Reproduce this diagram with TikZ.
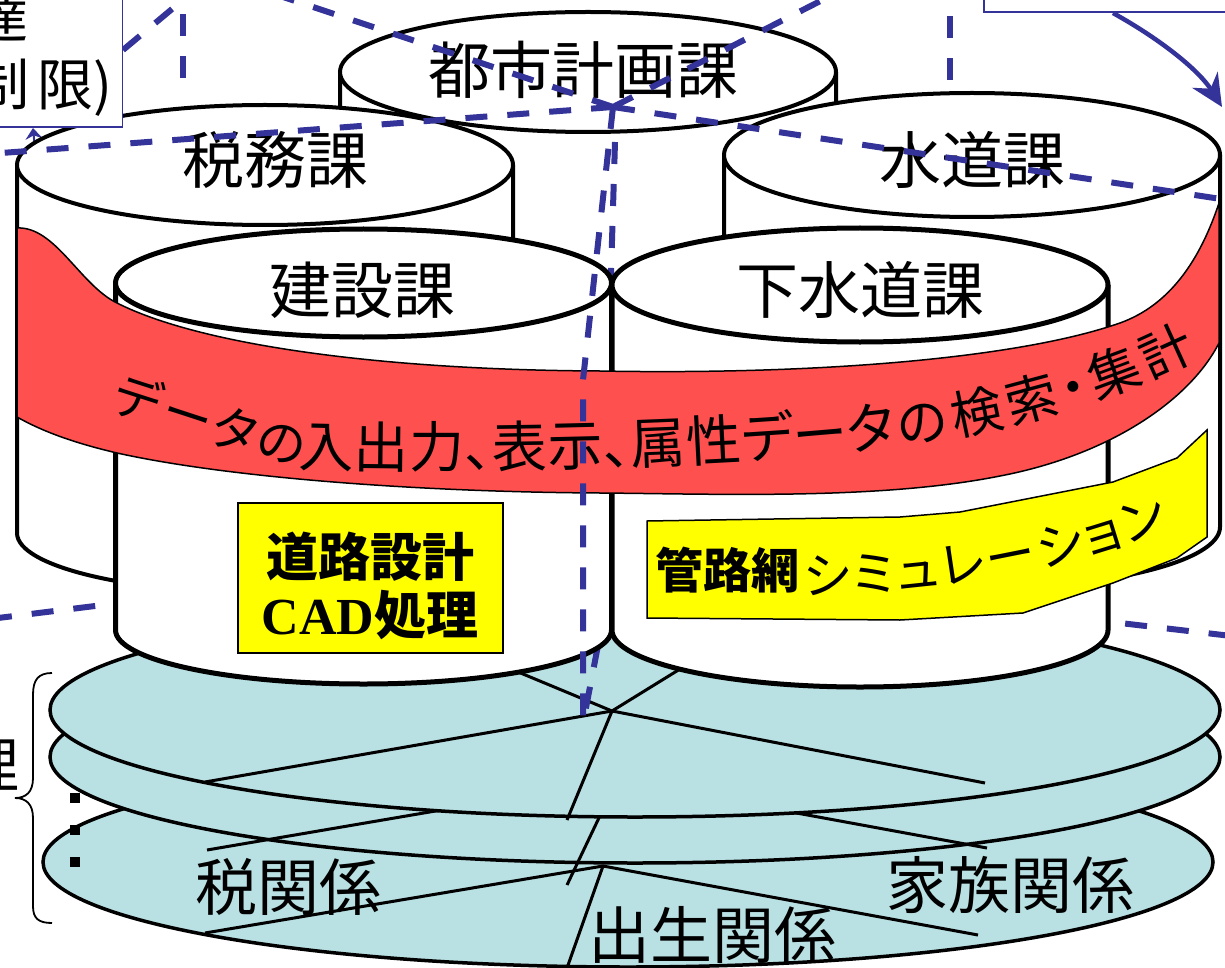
\documentclass[tikz,border=0pt]{standalone}
\usepackage{fontspec}
\newfontfamily\jp{Noto Sans CJK JP}
\newfontfamily\jpprop{Noto Sans CJK JP}[RawFeature=+palt]
\newfontfamily\latinserif{Liberation Serif}
\usetikzlibrary{arrows.meta,decorations.text}
\definecolor{linkblue}{RGB}{51,51,153}
\definecolor{bandred}{RGB}{255,80,80}
\definecolor{diskblue}{RGB}{185,224,227}
\definecolor{markyellow}{RGB}{255,255,0}
\newcommand{\fs}[1]{\fontsize{#1}{#1}\selectfont}
% upright cylinder: centre x, top y, bottom y, x radius, y radius, style
\newcommand{\cylinderbody}[6]{%
  \pgfmathsetmacro\cylL{#1-#4}%
  \pgfmathsetmacro\cylR{#1+#4}%
  \pgfmathsetmacro\cylB{#3+#5}%
  \pgfmathsetmacro\cylKx{0.5523*#4}%
  \pgfmathsetmacro\cylKy{0.5523*#5}%
  \path[#6] (\cylL,#2) -- (\cylL,#3)
    .. controls (\cylL,#3+\cylKy) and (#1-\cylKx,\cylB) .. (#1,\cylB)
    .. controls (#1+\cylKx,\cylB) and (\cylR,#3+\cylKy) .. (\cylR,#3)
    -- (\cylR,#2);
  \path[#6] (#1,#2) ellipse [x radius=#4pt, y radius=#5pt];
}
\begin{document}
\begin{tikzpicture}[x=1pt,y=-1pt,
  link/.style={draw=linkblue,line width=6pt,dash pattern=on 22pt off 20pt},
  backcyl/.style={draw=black,line width=4pt,fill=white},
  frontcyl/.style={draw=black,line width=5pt,fill=white},
  disk/.style={draw=black,line width=3.5pt,fill=diskblue},
  relation/.style={draw=black,line width=3pt},
  dept/.style={font=\jp\fs{62},inner sep=0pt},
  notebox/.style={draw=linkblue,line width=1.5pt,fill=white,inner sep=0pt},
  memotext/.style={font=\jp\fs{56},inner sep=0pt},
  bullet/.style={fill=black,minimum size=10pt,inner sep=0pt},
  bandtext/.style={decorate,decoration={text along path,text align={fit to path},text={#1}}}]

\useasboundingbox (0,0) rectangle (1225,968);
\clip (0,0) rectangle (1225,968);

% ---- back row of department stores
\cylinderbody{588}{72}{300}{248}{60}{backcyl}
\node[dept] (toshi) at (583,70) {都市計画課};

\coordinate (memoin) at (33,128);
\coordinate (memofoot) at (37,170);
\draw[linkblue,line width=2pt,-{Stealth[length=11pt,width=17pt]}] (memofoot) -- (memoin);

\cylinderbody{265}{165}{533}{248}{60}{backcyl}
\node[dept] (zeimu) at (275,160) {税務課};
\cylinderbody{972}{155}{527}{248}{62}{backcyl}
\node[dept] (suido) at (972,160) {水道課};

% ---- shared data layers
\path[disk] (628,862) ellipse [x radius=585pt, y radius=105pt];
\coordinate (j3) at (603,866);
\draw[relation] (205,933) -- (j3) -- (978,935);
\draw[relation] (j3) -- (567,968);
\node[dept] (zeikankei) at (288,887) {税関係};
\node[dept] (kazoku) at (1010,885) {家族関係};
\node[dept] (shusshou) at (712,935) {出生関係};

\path[disk] (635,757) ellipse [x radius=585pt, y radius=106pt];
\coordinate (j2) at (617,780);
\draw[relation] (207,850) -- (j2) -- (987,848);
\draw[relation] (j2) -- (567,885);

\path[disk] (635,710) ellipse [x radius=585pt, y radius=107pt];
\coordinate (j1) at (612,711);
\draw[relation] (205,782) -- (j1) -- (985,783);
\draw[relation] (470,652) -- (j1);
\draw[relation] (740,632) -- (j1) -- (567,820);

% ---- links passing behind the front row
\coordinate (leftlinkA) at (-10,619);
\coordinate (leftlinkB) at (200,593);
\draw[link] (leftlinkA) -- (leftlinkB);
\coordinate (rightlinkA) at (1000,609);
\coordinate (rightlinkB) at (1240,637);
\draw[link] (rightlinkA) -- (rightlinkB);
\coordinate (backdropA) at (615,142);
\coordinate (backdropB) at (600,635);
\coordinate (backdropC) at (584,718);
\draw[link] (backdropA) -- (backdropB) -- (backdropC);

% ---- front row
\cylinderbody{363.5}{283}{630}{248}{54}{frontcyl}
\node[dept] (kensetsu) at (362,290) {建設課};
\cylinderbody{860}{285}{630}{248}{57}{frontcyl}
\node[dept] (gesuido) at (860,290) {下水道課};

% ---- common functions band
\path[fill=bandred,draw=black,line width=1.5pt]
  (17,228) .. controls (55,226) and (80,285) .. (117,303)
  .. controls (200,345) and (380,370) .. (600,371)
  .. controls (820,375) and (1020,358) .. (1120,323)
  .. controls (1170,305) and (1200,260) .. (1219,203)
  -- (1219,343)
  .. controls (1190,400) and (1110,455) .. (1000,476)
  .. controls (880,500) and (720,494) .. (600,493)
  .. controls (420,492) and (230,478) .. (117,453)
  .. controls (70,442) and (40,430) .. (17,417) -- cycle;
\path[bandtext={|\jpprop\fs{50}|データの}]
  (110,410) .. controls (170,428) and (235,454) .. (302,465);
\path[bandtext={|\jpprop\fs{55}|入出力、表示、属性データ}]
  (298,466) .. controls (500,472) and (760,464) .. (897,446);
\path[bandtext={|\jpprop\fs{52}|の検索・集計}]
  (900,445) .. controls (1000,432) and (1110,402) .. (1198,358);

% ---- department specific functions
\node[draw=black,line width=1.5pt,fill=markyellow,minimum width=265pt,minimum height=150pt,inner sep=0pt] (roadbox) at (370.5,578) {};
\node[font=\jp\bfseries\fontsize{52}{58}\selectfont,align=center,inner sep=0pt] (roadtext) at (370,586) {道路設計\\{\latinserif\bfseries CAD}処理};

\path[draw=black,line width=1.5pt,fill=markyellow]
  (647,521) -- (900,517) -- (960,512) -- (1113,482) -- (1177,458) -- (1207,430)
  -- (1207,537) -- (1177,558) -- (1113,583) -- (1023,613) -- (900,620) -- (647,618) -- cycle;
\node[font=\jp\bfseries\fs{48},inner sep=0pt] (pipenet) at (727,570) {管路網};
\path[bandtext={|\jpprop\fs{50}|シミュレーション}]
  (804,594) .. controls (925,594) and (1055,574) .. (1170,528);

% ---- links over everything
\coordinate (hub) at (613,107);
\coordinate (hubW) at (-12,154);
\coordinate (hubNW) at (268,-8);
\coordinate (hubNE) at (838,-8);
\coordinate (hubE) at (1221,199);
\coordinate (hubbend) at (583,380);
\coordinate (hubS) at (583,718);
\draw[link] (hub) -- (hubW);
\draw[link] (hub) -- (hubNW);
\draw[link] (hub) -- (hubNE);
\draw[link] (hub) -- (hubE);
\draw[link] (hub) -- (hubbend) -- (hubS);
\coordinate (stubA1) at (183,78);
\coordinate (stubA2) at (183,-10);
\draw[link] (stubA1) -- (stubA2);
\coordinate (stubB1) at (950,80);
\coordinate (stubB2) at (950,-10);
\draw[link] (stubB1) -- (stubB2);
\coordinate (stubC1) at (123,50);
\coordinate (stubC2) at (190,-6);
\draw[link] (stubC1) -- (stubC2);

% ---- note boxes
\node[notebox,anchor=south east,minimum width=170pt,minimum height=170pt] (memo) at (123,128) {};
\node[memotext,anchor=east] (memoline1) at (29,16) {達};
\node[memotext,anchor=east] (memoline2) at (113,88) {制\kern8pt 限)};

\node[notebox,anchor=south west,minimum width=300pt,minimum height=60pt] (notice) at (983,13) {};
\coordinate (arrowfrom) at (1113,13);
\coordinate (arrowto) at (1222,107);
\draw[linkblue,line width=4.5pt,-{Stealth[length=32pt,width=30pt]}]
  (arrowfrom) .. controls (1165,42) and (1200,72) .. (arrowto);

% ---- brace and continuation marks
\draw[line width=1.8pt] (52,673) .. controls (38,673) and (33,680) .. (33,695) -- (33,778)
  .. controls (33,792) and (26,798) .. (15,798)
  .. controls (26,798) and (33,804) .. (33,818) -- (33,906)
  .. controls (33,918) and (38,923) .. (52,923);
\node[font=\jp\fs{60},inner sep=0pt,anchor=east] (rilabel) at (20,765) {理};
\node[bullet] (dot1) at (75,798) {};
\node[bullet] (dot2) at (75,830) {};
\node[bullet] (dot3) at (75,862) {};
\end{tikzpicture}
\end{document}
